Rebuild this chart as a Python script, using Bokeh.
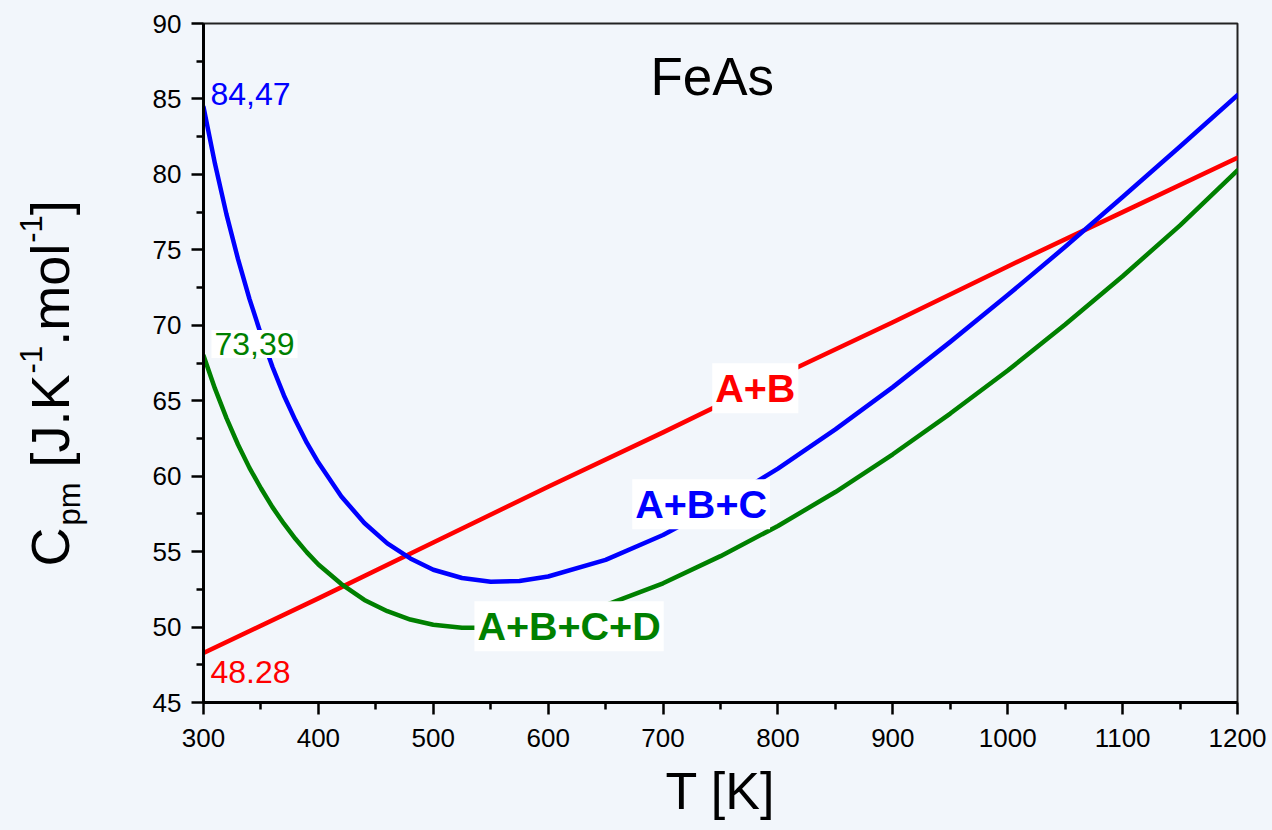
import math
from bokeh.plotting import figure
from bokeh.layouts import row
from bokeh.models import Range1d, FixedTicker, Label
from bokeh.embed import file_html
from bokeh.resources import INLINE

# ---- data ----
T_ab = [300, 400, 500, 600, 700, 800, 900, 1000, 1100, 1200]
cp_ab = [48.28, 51.9, 55.6, 59.3, 62.9, 66.6, 70.2, 73.9, 77.5, 81.1]

T_abc = [300, 310, 320, 330, 340, 350, 360, 370, 380, 390, 400, 420, 440, 460, 480, 500,
         525, 550, 575, 600, 650, 700, 750, 800, 850, 900, 950, 1000, 1050, 1100, 1150, 1200]
cp_abc = [84.47, 80.7, 77.35, 74.4, 71.75, 69.4, 67.25, 65.35, 63.7, 62.2, 60.9, 58.65, 56.9,
          55.55, 54.55, 53.8, 53.25, 53.0, 53.05, 53.35, 54.45, 56.1, 58.15, 60.5, 63.1, 65.9,
          68.9, 72.0, 75.2, 78.5, 81.85, 85.25]

T_abcd = [300, 310, 320, 330, 340, 350, 360, 370, 380, 390, 400, 420, 440, 460, 480, 500,
          525, 550, 575, 600, 650, 700, 750, 800, 850, 900, 950, 1000, 1050, 1100, 1150, 1200]
cp_abcd = [68.0, 65.8, 63.85, 62.1, 60.55, 59.2, 57.95, 56.85, 55.85, 54.95, 54.15, 52.85, 51.8,
           51.05, 50.5, 50.15, 49.95, 49.95, 50.1, 50.45, 51.45, 52.9, 54.7, 56.7, 58.95, 61.45,
           64.15, 67.0, 70.05, 73.25, 76.62, 80.26]

x_major = [300, 400, 500, 600, 700, 800, 900, 1000, 1100, 1200]
x_minor = [350, 450, 550, 650, 750, 850, 950, 1050, 1150]
y_major = [45, 50, 55, 60, 65, 70, 75, 80, 85, 90]
y_minor = [47.5, 52.5, 57.5, 62.5, 67.5, 72.5, 77.5, 82.5, 87.5]

BG = "#f2f6fb"
FONT = "Liberation Sans"
RED, BLUE, GREEN = "#ff0000", "#0000ff", "#008000"
BASE_SHIFT = 0.36  # compensation so that the given y is the text baseline

# ---------- left strip holding the rotated y-axis title ----------
LW = 110
side = figure(frame_width=LW, frame_height=830, min_border=0,
              min_border_left=0, min_border_right=0, min_border_top=0, min_border_bottom=0,
              x_range=Range1d(0, LW), y_range=Range1d(0, 830),
              x_axis_location=None, y_axis_location=None,
              output_backend="svg", toolbar_location=None)
side.background_fill_color = BG
side.border_fill_color = BG
side.outline_line_color = None
side.xgrid.visible = False
side.ygrid.visible = False

W = {"C": .722, "p": .556, "m": .833, " ": .278, "[": .278, "J": .5, ".": .278,
     "K": .667, "-": .333, "1": .556, "o": .556, "l": .222, "]": .278}
F, S = 54, 31
# (text, font size, perpendicular offset in px (negative = raised), extra gap after)
parts = [("C", F, 0, 2), ("pm", S, 11, 0.278 * F), ("[J.K", F, 0, 1), ("-1", S, -27, 0),
         (".mol", F, 0, 1), ("-1", S, -27, 0), ("]", F, 0, 0)]
base_px = 69      # page x of the rotated baseline
along_px = 543    # page y where the title starts (bottom)
for txt, size, off, gap in parts:
    side.add_layout(Label(x=base_px + off - BASE_SHIFT * size, y=830 - along_px,
                          angle=math.pi / 2, angle_units="rad", text=txt,
                          text_font=FONT, text_font_size=f"{size}px", text_color="black",
                          text_align="left", text_baseline="alphabetic"))
    along_px -= sum(W[c] for c in txt) * size + gap

# ---------- main chart ----------
FL, FT, FW, FH = 203, 23, 1034, 679
p = figure(frame_width=FW, frame_height=FH,
           min_border_left=FL - LW, min_border_right=1272 - FL - FW, min_border_top=FT,
           min_border_bottom=830 - FT - FH,
           x_range=Range1d(300, 1200), y_range=Range1d(45, 90),
           output_backend="svg", toolbar_location=None)
p.background_fill_color = BG
p.border_fill_color = BG
p.outline_line_color = "#222222"
p.outline_line_width = 2
p.xgrid.visible = False
p.ygrid.visible = False

p.xaxis.ticker = FixedTicker(ticks=x_major, minor_ticks=x_minor)
p.yaxis.ticker = FixedTicker(ticks=y_major, minor_ticks=y_minor)
for ax in (p.xaxis[0], p.yaxis[0]):
    ax.axis_line_width = 3
    ax.axis_line_color = "black"
    ax.major_tick_line_width = 2.5
    ax.minor_tick_line_width = 2.5
    ax.major_tick_line_color = "black"
    ax.minor_tick_line_color = "black"
    ax.major_tick_out = 12
    ax.major_tick_in = 0
    ax.minor_tick_out = 7
    ax.minor_tick_in = 0
    ax.major_label_text_font = FONT
    ax.major_label_text_font_size = "26px"
    ax.major_label_text_color = "black"
p.xaxis.major_label_standoff = 14
p.yaxis.major_label_standoff = 10

p.xaxis.axis_label = "T [K]"
p.xaxis.axis_label_text_font = FONT
p.xaxis.axis_label_text_font_size = "52px"
p.xaxis.axis_label_text_font_style = "normal"
p.xaxis.axis_label_text_color = "black"
p.xaxis.axis_label_standoff = 12

for T, cp, col in ((T_ab, cp_ab, RED), (T_abc, cp_abc, BLUE), (T_abcd, cp_abcd, GREEN)):
    p.line(T, cp, line_color=col, line_width=4.5, line_join="round", line_cap="round")

PX_PER_U = FH / 45.0


def lab(x, y, text, color, size, bold=False, bg=None):
    y = y + BASE_SHIFT * size / PX_PER_U
    kw = dict(x=x, y=y, text=text, text_color=color, text_font=FONT,
              text_font_size=f"{size}px", text_align="left", text_baseline="alphabetic",
              text_font_style="bold" if bold else "normal")
    if bg:
        kw.update(background_fill_color=bg, padding=3)
    p.add_layout(Label(**kw))


lab(689.0, 85.23, "FeAs", "black", 53)
lab(306.1, 84.57, "84,47", BLUE, 32)
lab(306.1, 46.26, "48.28", RED, 32)
lab(306.9, 68.0, "73,39", GREEN, 32, bg="white")
lab(742.8, 64.88, "A+B", RED, 39.5, bold=True, bg="white")
lab(673.2, 57.19, "A+B+C", BLUE, 39.5, bold=True, bg="white")
lab(535.8, 49.11, "A+B+C+D", GREEN, 39.5, bold=True, bg="white")

layout = row(side, p, spacing=0)
html = file_html(layout, INLINE)
html = html.replace("<head>", "<head><style>body{background:%s;}</style>" % BG, 1)
open("out.html", "w").write(html)
